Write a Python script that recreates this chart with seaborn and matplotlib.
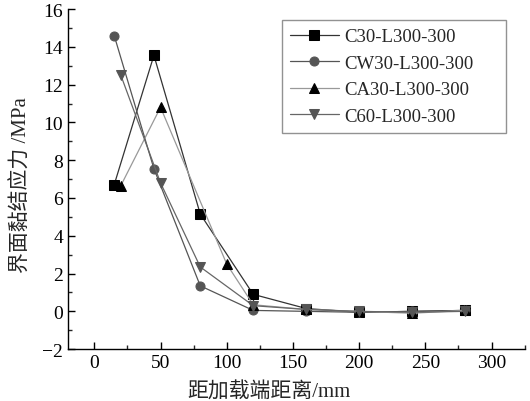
import matplotlib
matplotlib.use('Agg')
import pandas as pd
import numpy as np
import matplotlib.pyplot as plt
from matplotlib.ticker import MultipleLocator
import seaborn as sns

# distance from loaded end (mm) and bond stress (MPa) per specimen
x_c30 = [15, 45, 80, 120, 160, 200, 240, 280]
y_c30 = [6.7, 13.55, 5.15, 0.9, 0.15, -0.05, 0.0, 0.05]
x_cw30 = [15, 45, 80, 120, 160, 200, 240, 280]
y_cw30 = [14.6, 7.55, 1.35, 0.05, 0.0, -0.05, 0.0, 0.05]
x_ca30 = [20, 50, 100, 120, 160, 200, 240, 280]
y_ca30 = [6.65, 10.8, 2.5, 0.35, 0.1, 0.0, -0.1, 0.05]
x_c60 = [20, 50, 80, 120, 160, 200, 240, 280]
y_c60 = [12.5, 6.8, 2.35, 0.3, 0.1, 0.0, -0.05, 0.0]
names = ["C30-L300-300", "CW30-L300-300", "CA30-L300-300", "C60-L300-300"]

sns.set_style("ticks")
plt.rcParams['font.family'] = ['Liberation Serif', 'Noto Sans CJK SC']
plt.rcParams['xtick.direction'] = 'in'
plt.rcParams['ytick.direction'] = 'in'

frames = []
for n, xs, ys in zip(names, [x_c30, x_cw30, x_ca30, x_c60], [y_c30, y_cw30, y_ca30, y_c60]):
    frames.append(pd.DataFrame({"x": xs, "y": ys, "name": n}))
df = pd.concat(frames, ignore_index=True)

markers = ["s", "o", "^", "v"]
mcolors = ["#000000", "#555555", "#000000", "#555555"]
lcolors = ["#333333", "#555555", "#999999", "#666666"]

fig = plt.figure(figsize=(5.3, 4.02), dpi=100)
ax = fig.add_axes([0.128, 0.129, 0.862, 0.846])
for n, m, mc, lc in zip(names, markers, mcolors, lcolors):
    sub = df[df["name"] == n]
    sns.lineplot(x="x", y="y", data=sub, ax=ax, color=lc, linewidth=0.9,
                 marker=m, markersize=6.5, markerfacecolor=mc, markeredgecolor=mc,
                 label=n, sort=False)

ax.set_xlim(-20, 325)
ax.set_ylim(-2, 16)
ax.xaxis.set_major_locator(MultipleLocator(50))
ax.xaxis.set_minor_locator(MultipleLocator(25))
ax.yaxis.set_major_locator(MultipleLocator(2))
ax.yaxis.set_minor_locator(MultipleLocator(1))
ax.tick_params(which='major', length=5, width=1, labelsize=14, colors='black')
ax.tick_params(which='minor', length=3, width=1)
for s in ['top', 'right']:
    ax.spines[s].set_visible(False)
for s in ['left', 'bottom']:
    ax.spines[s].set_linewidth(1)
    ax.spines[s].set_color('black')

ax.set_xlabel("距加载端距离/mm", fontsize=15)
ax.xaxis.set_label_coords(0.44, -0.095)
ax.set_ylabel("界面黏结应力 /MPa", fontsize=15)
ax.yaxis.set_label_coords(-0.078, 0.485)

leg = ax.legend(loc='upper left', bbox_to_anchor=(0.468, 0.67, 0.49, 0.298),
                mode='expand', fontsize=13.5,
                frameon=True, fancybox=False, edgecolor='#777777',
                handlelength=2.6, handletextpad=0.3, labelspacing=0.5,
                borderpad=0.45, borderaxespad=0)
leg.get_frame().set_linewidth(1)

fig.savefig("out.png", dpi=100)
